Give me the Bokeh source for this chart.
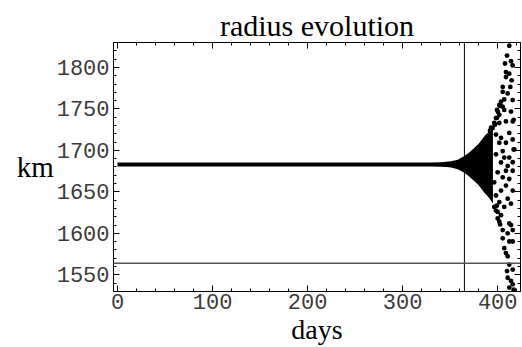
from bokeh.plotting import figure
from bokeh.models import Range1d, Span, FixedTicker, LinearAxis, ColumnDataSource
from bokeh.embed import file_html
from bokeh.resources import INLINE

# ---- data ----
title_text = "radius evolution"
x_label = "days"
y_label = "km"

x_ticks = [0, 100, 200, 300, 400]
y_ticks = [1550, 1600, 1650, 1700, 1750, 1800]

# dense part (sampled points merge into a solid band)
band_days = [0, 330, 340, 346, 351, 358, 365, 370, 375, 380, 386, 390, 395]
band_upper = [1685.4, 1685.4, 1685.7, 1686.2, 1686.8, 1688.8, 1693.1, 1697.5,
              1702.5, 1708.0, 1717.0, 1722.0, 1730.0]
band_lower = [1680.6, 1680.6, 1680.3, 1679.8, 1679.2, 1677.2, 1672.9, 1668.5,
              1663.5, 1658.0, 1649.0, 1644.0, 1636.0]

# individually visible points (day, km)
dot_days = [412.2, 409.8, 414.0, 407.7, 415.8, 408.7, 412.2, 408.7, 414.7, 405.3,
            413.3, 405.3, 410.5, 406.9, 415.8, 403.5, 401.7, 405.3, 399.3, 406.9,
            414.0, 401.7, 398.2, 408.7, 396.4, 401.7, 415.8, 394.7, 416.8, 416.8,
            415.8,
            398.2, 403.5, 412.2, 401.7, 408.7, 415.8, 417.5, 405.3, 398.2, 406.9,
            412.2, 403.5, 410.5, 415.8, 408.7, 400.0, 405.3, 412.2, 396.4, 408.7,
            415.8, 403.5, 398.2, 410.5, 401.7, 414.0, 406.9, 396.4,
            400.0, 403.5, 401.7, 412.2, 414.0, 405.3, 410.5, 415.8, 405.3, 412.2,
            415.8, 406.9, 408.7, 410.5, 412.2, 415.8, 409.8, 410.5, 414.0, 412.2,
            415.8, 416.8,
            398.2, 400.0, 402.6, 399.1, 397.2, 399.3, 400.3, 402.6, 391.9, 393.0]
dot_km = [1826.2, 1814.3, 1807.5, 1804.8, 1802.4, 1794.4, 1792.5, 1788.5, 1784.5, 1776.5,
          1776.5, 1770.6, 1768.7, 1761.5, 1760.7, 1758.7, 1754.8, 1752.7, 1748.8, 1748.8,
          1746.8, 1742.9, 1738.9, 1734.9, 1733.0, 1733.0, 1734.9, 1727.0, 1736.9, 1701.2,
          1685.7,
          1719.0, 1715.1, 1721.1, 1709.2, 1709.2, 1713.1, 1701.2, 1699.2, 1695.2, 1691.3,
          1691.3, 1685.4, 1681.3, 1675.4, 1675.4, 1673.5, 1667.5, 1665.5, 1661.5, 1657.5,
          1651.5, 1651.5, 1645.6, 1641.7, 1637.7, 1635.7, 1631.8, 1631.8,
          1625.8, 1621.8, 1613.9, 1611.9, 1609.9, 1603.9, 1600.0, 1603.9, 1594.0, 1590.1,
          1590.1, 1582.1, 1576.2, 1572.3, 1562.3, 1556.3, 1554.4, 1546.4, 1542.5, 1534.5,
          1538.5, 1532.0,
          1627.4, 1617.9, 1610.7, 1633.3, 1731.0, 1739.3, 1746.4, 1753.6, 1723.8, 1727.4]

year_day = 365
limit_km = 1564

# ---- figure ----
p = figure(width=522, height=347, output_backend="svg", toolbar_location=None,
           x_range=Range1d(-4.2, 424.0), y_range=Range1d(1529.8, 1830.1),
           min_border_left=113, min_border_right=2, min_border_top=42,
           min_border_bottom=53, background_fill_color="white",
           border_fill_color="white", outline_line_color="black")

p.xgrid.visible = False
p.ygrid.visible = False

x_minor = list(range(0, 421, 20))
y_minor = list(range(1530, 1831, 10))

tick_font = "Liberation Mono"
tick_size = "22px"

for ax in p.xaxis:
    ax.ticker = FixedTicker(ticks=x_ticks, minor_ticks=x_minor)
for ax in p.yaxis:
    ax.ticker = FixedTicker(ticks=y_ticks, minor_ticks=y_minor)

for ax in list(p.xaxis) + list(p.yaxis):
    ax.major_tick_in = 6
    ax.major_tick_out = 0
    ax.minor_tick_in = 3
    ax.minor_tick_out = 0
    ax.axis_line_color = "black"
    ax.major_tick_line_color = "black"
    ax.minor_tick_line_color = "black"
    ax.major_label_text_font = tick_font
    ax.major_label_text_font_size = tick_size
    ax.major_label_text_color = "#3a3a3a"

p.yaxis.major_label_standoff = 4
p.xaxis.major_label_standoff = 2

p.xaxis.axis_label = x_label
p.xaxis.axis_label_text_font = "Liberation Serif"
p.xaxis.axis_label_text_font_size = "28px"
p.xaxis.axis_label_text_font_style = "normal"
p.xaxis.axis_label_text_color = "black"
p.xaxis.axis_label_standoff = 2

p.yaxis.axis_label = y_label
p.yaxis.axis_label_text_font = "Liberation Serif"
p.yaxis.axis_label_text_font_size = "29px"
p.yaxis.axis_label_text_font_style = "normal"
p.yaxis.axis_label_text_color = "black"
p.yaxis.axis_label_standoff = 0
p.yaxis.axis_label_orientation = "horizontal"

# mirrored frame ticks (no labels)
top = LinearAxis(ticker=FixedTicker(ticks=x_ticks, minor_ticks=x_minor),
                 major_label_overrides={t: "" for t in x_ticks}, major_label_standoff=0,
                 major_label_text_font_size="4px",
                 major_tick_in=6, major_tick_out=0, minor_tick_in=3, minor_tick_out=0,
                 axis_line_color="black")
right = LinearAxis(ticker=FixedTicker(ticks=y_ticks, minor_ticks=y_minor),
                   major_label_overrides={t: "" for t in y_ticks}, major_label_standoff=0,
                   major_label_text_font_size="4px",
                   major_tick_in=6, major_tick_out=0, minor_tick_in=3, minor_tick_out=0,
                   axis_line_color="black")
p.add_layout(top, "above")
p.add_layout(right, "right")

p.title.text = title_text
p.title.align = "center"
p.title.text_font = "Liberation Serif"
p.title.text_font_size = "30px"
p.title.text_font_style = "normal"
p.title.text_color = "black"
p.title.standoff = 2

# data
band = ColumnDataSource(dict(d=band_days, up=band_upper, lo=band_lower))
p.varea(x="d", y1="lo", y2="up", source=band, fill_color="black")
dots = ColumnDataSource(dict(d=dot_days, km=dot_km))
p.scatter(x="d", y="km", source=dots, size=4.8, fill_color="black", line_color=None)

p.add_layout(Span(location=year_day, dimension="height", line_color="black", line_width=1))
p.add_layout(Span(location=limit_km, dimension="width", line_color="#555555", line_width=1.5))

open("out.html", "w").write(file_html(p, INLINE))
